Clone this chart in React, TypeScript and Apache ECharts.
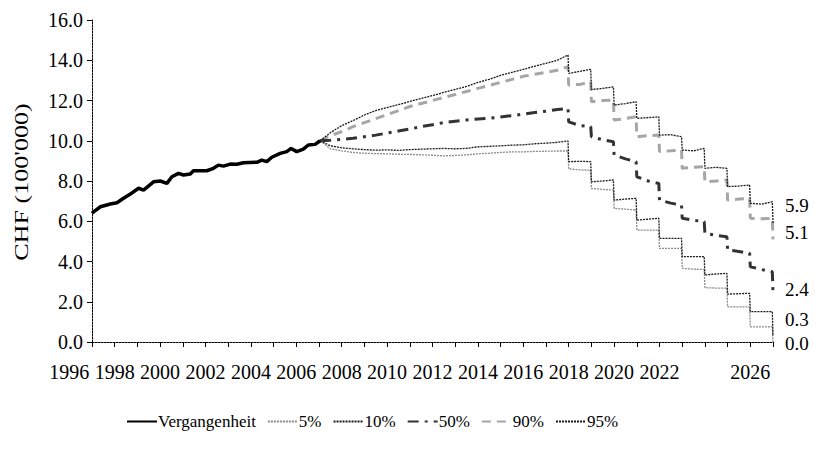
import React, { useEffect, useRef } from 'react';
import * as echarts from 'echarts';

// Historical path ("Vergangenheit")
const histYears = [1997.0, 1997.07, 1997.37, 1997.81, 1998.1, 1998.39, 1998.69, 1999.05, 1999.27, 1999.71, 2000.01, 2000.3, 2000.52, 2000.81, 2001.03, 2001.33, 2001.47, 2002.06, 2002.35, 2002.57, 2002.79, 2003.09, 2003.38, 2003.67, 2004.26, 2004.48, 2004.7, 2004.92, 2005.29, 2005.58, 2005.77, 2006.02, 2006.31, 2006.53, 2006.83, 2007.05];
const histValues = [6.4, 6.47, 6.72, 6.86, 6.92, 7.14, 7.35, 7.64, 7.55, 7.96, 8.0, 7.88, 8.21, 8.38, 8.3, 8.35, 8.51, 8.51, 8.63, 8.79, 8.74, 8.84, 8.83, 8.91, 8.93, 9.04, 8.96, 9.18, 9.37, 9.46, 9.62, 9.46, 9.58, 9.79, 9.82, 10.0];

// Projection time grid (yearly withdrawals from 2018 on)
const projYears = [2007.05, 2007.5, 2008, 2008.5, 2009, 2009.5, 2010, 2010.5, 2011, 2011.5, 2012, 2012.5, 2013, 2013.5, 2014, 2014.5, 2015, 2015.5, 2016, 2016.5, 2017, 2017.5, 2017.97,
  2018, 2018.5, 2018.97, 2019, 2019.5, 2019.97, 2020, 2020.5, 2020.97, 2021, 2021.5, 2021.97, 2022, 2022.5, 2022.97, 2023, 2023.5, 2023.97, 2024, 2024.5, 2024.97, 2025, 2025.5, 2025.97, 2026, 2026.5, 2026.97, 2027];

const p5 = [10.0, 9.6, 9.5, 9.42, 9.38, 9.36, 9.35, 9.33, 9.32, 9.3, 9.28, 9.25, 9.27, 9.3, 9.35, 9.38, 9.42, 9.45, 9.45, 9.47, 9.48, 9.49, 9.49,
  8.6, 8.55, 8.54, 7.63, 7.58, 7.55, 6.64, 6.6, 6.56, 5.56, 5.56, 5.56, 4.65, 4.65, 4.65, 3.66, 3.62, 3.6, 2.7, 2.68, 2.67, 1.75, 1.75, 1.75, 0.75, 0.75, 0.76, 0.0];
const p10 = [10.0, 9.75, 9.65, 9.6, 9.56, 9.53, 9.55, 9.52, 9.56, 9.58, 9.6, 9.62, 9.6, 9.62, 9.7, 9.72, 9.75, 9.78, 9.8, 9.85, 9.88, 9.92, 9.99,
  8.96, 8.98, 8.96, 7.96, 8.0, 8.05, 7.05, 7.1, 7.14, 6.06, 6.1, 6.15, 5.15, 5.15, 5.15, 4.24, 4.24, 4.24, 3.33, 3.38, 3.41, 2.38, 2.4, 2.42, 1.51, 1.51, 1.51, 0.3];
const p50 = [10.0, 10.03, 10.07, 10.12, 10.2, 10.28, 10.38, 10.48, 10.58, 10.7, 10.8, 10.9, 10.97, 11.03, 11.08, 11.12, 11.18, 11.25, 11.32, 11.4, 11.47, 11.55, 11.6,
  10.94, 10.75, 10.7, 10.2, 10.05, 9.95, 9.29, 9.1, 8.96, 8.21, 8.0, 7.88, 7.05, 6.9, 6.8, 6.15, 6.05, 5.98, 5.4, 5.3, 5.23, 4.57, 4.5, 4.41, 3.74, 3.6, 3.49, 2.4];
const p90 = [10.0, 10.25, 10.45, 10.7, 10.9, 11.1, 11.3, 11.5, 11.7, 11.85, 12.0, 12.15, 12.3, 12.45, 12.6, 12.75, 12.9, 13.05, 13.2, 13.3, 13.4, 13.5, 13.68,
  12.77, 12.8, 12.93, 11.94, 12.0, 12.02, 11.03, 11.1, 11.19, 10.2, 10.25, 10.28, 9.46, 9.5, 9.54, 8.63, 8.68, 8.71, 7.96, 8.0, 8.05, 7.05, 7.1, 7.14, 6.15, 6.12, 6.15, 5.1];
const p95 = [10.0, 10.4, 10.75, 11.0, 11.28, 11.5, 11.65, 11.8, 11.95, 12.1, 12.25, 12.4, 12.55, 12.7, 12.9, 13.05, 13.25, 13.4, 13.55, 13.7, 13.85, 14.0, 14.26,
  13.35, 13.45, 13.55, 12.55, 12.6, 12.68, 11.77, 11.85, 11.94, 11.11, 11.15, 11.19, 10.28, 10.3, 10.2, 9.54, 9.5, 9.62, 8.63, 8.68, 8.63, 7.72, 7.75, 7.8, 6.89, 6.85, 6.97, 5.9];

const seriesNames = ['Vergangenheit', '5%', '10%', '50%', '90%', '95%'];
const endLabels = ['5.9', '5.1', '2.4', '0.3', '0.0'];
const yTicks = [0, 2, 4, 6, 8, 10, 12, 14, 16];
const xLabelYears = [1996, 1998, 2000, 2002, 2004, 2006, 2008, 2010, 2012, 2014, 2016, 2018, 2020, 2022, 2026];
const yTitle = "CHF (100'000)";

const FONT = "'Liberation Serif', 'Times New Roman', serif";

export default function App() {
  const ref = useRef<HTMLDivElement>(null);
  useEffect(() => {
    if (!ref.current) return;
    const chart = echarts.init(ref.current, null, { renderer: 'svg' });
    const pair = (xs: number[], ys: number[]) => xs.map((x, i) => [x, ys[i]]);
    const mk = (name: string, data: number[][], color: string, width: number, type: any, z: number) => ({
      name, type: 'line', data, symbol: 'none', showSymbol: false, z,
      lineStyle: { color, width, type },
      itemStyle: { color },
    });
    chart.setOption({
      animation: false,
      backgroundColor: '#fff',
      grid: { left: 92, right: 42, top: 20, bottom: 119 },
      legend: {
        left: 121, top: 408, itemWidth: 30, itemHeight: 12, itemGap: 11,
        data: seriesNames,
        itemStyle: { opacity: 0, color: 'rgba(0,0,0,0)', borderWidth: 0 },
        textStyle: { fontFamily: FONT, fontSize: 17, color: '#000', padding: [0, 0, 0, -4] },
      },
      xAxis: {
        type: 'value', min: 1997, max: 2027, interval: 1,
        axisLine: { show: true, lineStyle: { color: '#000', width: 1, type: [2, 1] } },
        axisTick: { show: true, length: 5, lineStyle: { color: '#000' } },
        splitLine: { show: false },
        axisLabel: {
          margin: 20, fontFamily: FONT, fontSize: 20, color: '#000',
          formatter: (v: number) => (xLabelYears.includes(Math.round(v)) ? String(Math.round(v)) : ''),
        },
      },
      yAxis: {
        type: 'value', min: yTicks[0], max: yTicks[yTicks.length - 1], interval: 2,
        axisLine: { show: true, lineStyle: { color: '#000', width: 1, type: [2, 1] } },
        axisTick: { show: true, length: 5, lineStyle: { color: '#000' } },
        splitLine: { show: false },
        axisLabel: { margin: 9, fontFamily: FONT, fontSize: 20, color: '#000', formatter: (v: number) => v.toFixed(1) },
      },
      series: [
        mk(seriesNames[0], pair(histYears, histValues), '#000', 3.5, 'solid', 10),
        mk(seriesNames[1], pair(projYears, p5), '#8c8c8c', 1.3, [2, 1], 3),
        mk(seriesNames[2], pair(projYears, p10), '#1a1a1a', 1.3, [2, 1], 4),
        mk(seriesNames[3], pair(projYears, p50), '#333', 3, [11, 6, 3, 6], 5),
        mk(seriesNames[4], pair(projYears, p90), '#a6a6a6', 3, [9, 6], 4),
        mk(seriesNames[5], pair(projYears, p95), '#1a1a1a', 1.3, [2, 1], 4),
      ],
    });
    const finals = [p95, p90, p50, p10, p5].map((a) => a[a.length - 1]);
    const nudges = [-18, -7, -4, -16, 1];
    const graphics: any[] = finals.map((v, i) => {
      const pt = chart.convertToPixel({ gridIndex: 0 }, [2027, v]) as number[];
      return {
        type: 'text', x: pt[0] + 12, y: pt[1] + nudges[i],
        style: { text: endLabels[i], fontFamily: FONT, fontSize: 19, fill: '#000', verticalAlign: 'middle', align: 'left' },
      };
    });
    const p0 = chart.convertToPixel({ gridIndex: 0 }, [xLabelYears[0], 0]) as number[];
    graphics.push({
      type: 'text', x: p0[0], y: p0[1] + 20,
      style: { text: String(xLabelYears[0]), fontFamily: FONT, fontSize: 20, fill: '#000', verticalAlign: 'top', align: 'center' },
    });
    const mid = chart.convertToPixel({ gridIndex: 0 }, [1997, (yTicks[0] + yTicks[yTicks.length - 1]) / 2]) as number[];
    graphics.push({
      type: 'text', x: mid[0] - 70, y: mid[1] + 1, rotation: Math.PI / 2, scaleX: 1.45, scaleY: 1,
      style: { text: yTitle, fontFamily: FONT, fontSize: 18, fill: '#000', verticalAlign: 'middle', align: 'center' },
    });
    chart.setOption({ graphic: graphics });
    return () => chart.dispose();
  }, []);
  return <div ref={ref} style={{ position: 'fixed', left: 0, top: 0, width: 815, height: 461 }} />;
}
